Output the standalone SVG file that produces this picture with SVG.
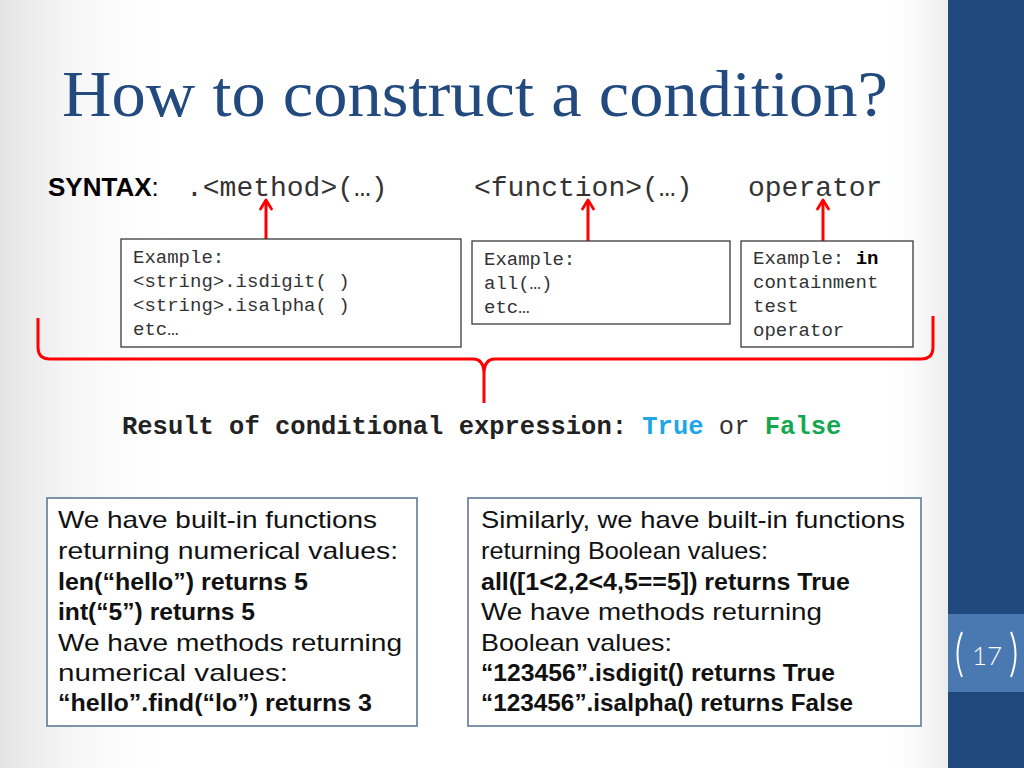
<svg xmlns="http://www.w3.org/2000/svg" width="1024" height="768" viewBox="0 0 1024 768">
<defs>
<linearGradient id="bgL" x1="0" y1="0" x2="1" y2="0">
<stop offset="0" stop-color="#e4e4e4"/>
<stop offset="1" stop-color="#ffffff" stop-opacity="0"/>
</linearGradient>
<linearGradient id="bgR" x1="0" y1="0" x2="1" y2="0">
<stop offset="0" stop-color="#ffffff" stop-opacity="0"/>
<stop offset="1" stop-color="#ececec"/>
</linearGradient>
<marker id="ah" viewBox="0 0 14 14" refX="12" refY="7" markerWidth="14" markerHeight="14" markerUnits="userSpaceOnUse" orient="auto">
<path d="M3,1.5 L12,7 L3,12.5" fill="none" stroke="#ff0000" stroke-width="2.8" stroke-linecap="round" stroke-linejoin="round"/>
</marker>
</defs>
<style>
.title{font-family:"Liberation Serif","DejaVu Serif",serif;font-size:66px;fill:#224a7f}
.mono{font-family:"Liberation Mono","Courier New",monospace;fill:#333333}
.syn{font-size:28px}
.ex{font-size:19px}
.res{font-size:25.5px;font-weight:bold;fill:#222222}
.box{fill:#ffffff;stroke:#3a3a3a;stroke-width:1.3}
.tbox{fill:#ffffff;stroke:#5f7898;stroke-width:1.6}
.txt{font-family:"Liberation Sans","Arial",sans-serif;font-size:24px;fill:#111111}
.b{font-weight:bold}
.red{fill:none;stroke:#ff0000;stroke-width:3}
</style>
<rect x="0" y="0" width="1024" height="768" fill="#ffffff"/>
<rect x="0" y="0" width="180" height="768" fill="url(#bgL)"/>
<rect x="880" y="0" width="68" height="768" fill="url(#bgR)"/>
<rect x="948" y="0" width="76" height="768" fill="#1f497d"/>
<rect x="948" y="614" width="76" height="78" fill="#4a78b0"/>
<g id="slide-number">
<path d="M962,632 Q953,654 962,677" fill="none" stroke="#ffffff" stroke-width="2"/>
<path d="M1011,632 Q1020,654 1011,677" fill="none" stroke="#ffffff" stroke-width="2"/>
<text x="987" y="665" text-anchor="middle" font-family="Lato,'Liberation Sans',sans-serif" font-size="26" fill="#ffffff" font-weight="300">17</text>
</g>
<text class="title" x="62" y="116" textLength="826" lengthAdjust="spacingAndGlyphs">How to construct a condition?</text>
<g id="syntax">
<text x="48" y="196" font-family="'Liberation Sans',Arial,sans-serif" font-size="26" fill="#000000"><tspan font-weight="bold">SYNTAX</tspan>:</text>
<text class="mono syn" x="186" y="196">.&lt;method&gt;(…)</text>
<text class="mono syn" x="474" y="196">&lt;function&gt;(…)</text>
<text class="mono syn" x="748" y="196">operator</text>
</g>
<g id="connectors">
<line class="red" x1="266" y1="239" x2="266" y2="200" marker-end="url(#ah)"/>
<line class="red" x1="588" y1="241" x2="588" y2="200" marker-end="url(#ah)"/>
<line class="red" x1="823" y1="241" x2="823" y2="200" marker-end="url(#ah)"/>
<path class="red" d="M38,318 L38,347 Q38,359 50,359 L473,359 Q484,359 484,374 L484,403 M484,403 L484,374 Q484,359 495,359 L921,359 Q933,359 933,347 L933,316"/>
</g>
<g id="box-method">
<rect class="box" x="121" y="239" width="340" height="108"/>
<text class="mono ex" x="133" y="263">Example:</text>
<text class="mono ex" x="133" y="287">&lt;string&gt;.isdigit( )</text>
<text class="mono ex" x="133" y="311">&lt;string&gt;.isalpha( )</text>
<text class="mono ex" x="133" y="335">etc…</text>
</g>
<g id="box-function">
<rect class="box" x="472" y="241" width="258" height="83"/>
<text class="mono ex" x="484" y="265">Example:</text>
<text class="mono ex" x="484" y="289">all(…)</text>
<text class="mono ex" x="484" y="313">etc…</text>
</g>
<g id="box-operator">
<rect class="box" x="741" y="241" width="172" height="106"/>
<text class="mono ex" x="753" y="264">Example: <tspan font-weight="bold" fill="#000000">in</tspan></text>
<text class="mono ex" x="753" y="288">containment</text>
<text class="mono ex" x="753" y="312">test</text>
<text class="mono ex" x="753" y="336">operator</text>
</g>
<g id="result">
<text class="mono res" x="122" y="434">Result of conditional expression: <tspan fill="#1ea6e6">True</tspan> <tspan font-weight="normal" fill="#333333">or</tspan> <tspan fill="#14a84e">False</tspan></text>
</g>
<g id="box-numerical">
<rect class="tbox" x="47" y="498" width="370" height="228"/>
<text class="txt" x="58" y="528" textLength="319" lengthAdjust="spacingAndGlyphs">We have built-in functions</text>
<text class="txt" x="58" y="559" textLength="340" lengthAdjust="spacingAndGlyphs">returning numerical values:</text>
<text class="txt b" x="58" y="590" textLength="250" lengthAdjust="spacingAndGlyphs">len(“hello”) returns 5</text>
<text class="txt b" x="58" y="620" textLength="197" lengthAdjust="spacingAndGlyphs">int(“5”) returns 5</text>
<text class="txt" x="58" y="651" textLength="344" lengthAdjust="spacingAndGlyphs">We have methods returning</text>
<text class="txt" x="58" y="681" textLength="230" lengthAdjust="spacingAndGlyphs">numerical values:</text>
<text class="txt b" x="58" y="711" textLength="314" lengthAdjust="spacingAndGlyphs">“hello”.find(“lo”) returns 3</text>
</g>
<g id="box-boolean">
<rect class="tbox" x="468" y="498" width="453" height="228"/>
<text class="txt" x="481" y="528" textLength="424" lengthAdjust="spacingAndGlyphs">Similarly, we have built-in functions</text>
<text class="txt" x="481" y="559" textLength="287" lengthAdjust="spacingAndGlyphs">returning Boolean values:</text>
<text class="txt b" x="481" y="590" textLength="369" lengthAdjust="spacingAndGlyphs">all([1&lt;2,2&lt;4,5==5]) returns True</text>
<text class="txt" x="481" y="620" textLength="341" lengthAdjust="spacingAndGlyphs">We have methods returning</text>
<text class="txt" x="481" y="651" textLength="191" lengthAdjust="spacingAndGlyphs">Boolean values:</text>
<text class="txt b" x="481" y="681" textLength="354" lengthAdjust="spacingAndGlyphs">“123456”.isdigit() returns True</text>
<text class="txt b" x="481" y="711" textLength="372" lengthAdjust="spacingAndGlyphs">“123456”.isalpha() returns False</text>
</g>
</svg>
